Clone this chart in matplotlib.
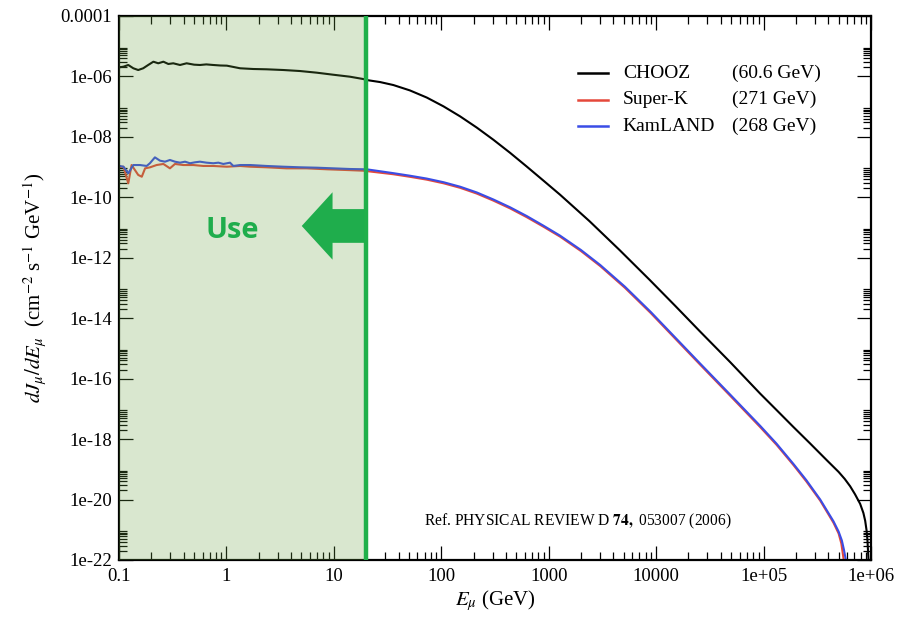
import numpy as np
import matplotlib.pyplot as plt
import matplotlib.patches as mpatches
from matplotlib.ticker import FixedLocator, FixedFormatter, NullFormatter

plt.rcParams['font.family'] = ['Liberation Serif', 'DejaVu Serif']
plt.rcParams['mathtext.fontset'] = 'stix'

# ==============================================================================
# Muon flux dJ/dE vs E
# ==============================================================================
E_chooz = np.array([
    0.10, 0.110, 0.122, 0.136, 0.151, 0.168, 0.187, 0.209, 0.232, 0.259,
    0.288, 0.320, 0.370, 0.426, 0.50, 0.567, 0.65, 0.755, 0.88, 1.01,
    1.34, 1.78, 2.37, 3.39, 4.83, 6.94, 9.84, 14.1, 18.8, 20.2,
    27, 35.8, 51, 73.3, 105, 150, 214, 305, 437, 625,
    891, 1276, 2400, 4570, 8700, 1.5e4, 2.57e4, 4.9e4, 9.3e4, 1.32e5,
    1.9e5, 2.7e5, 3.88e5, 5.0e5, 5.7e5, 6.4e5, 7.1e5, 7.93e5, 8.5e5, 8.83e5,
    9.1e5, 9.27e5, 9.5e5])
J_chooz = np.array([
    2.0e-6, 2.10e-6, 2.39e-6, 1.86e-6, 1.63e-6, 1.86e-6, 2.39e-6, 3.07e-6, 2.72e-6, 3.07e-6,
    2.58e-6, 2.72e-6, 2.39e-6, 2.72e-6, 2.45e-6, 2.39e-6, 2.50e-6, 2.39e-6, 2.30e-6, 2.27e-6,
    1.86e-6, 1.76e-6, 1.72e-6, 1.63e-6, 1.51e-6, 1.33e-6, 1.14e-6, 9.8e-7, 8.2e-7, 7.6e-7,
    6.5e-7, 5.19e-7, 3.45e-7, 2.0e-7, 1.02e-7, 4.75e-8, 2.03e-8, 8.07e-9, 2.97e-9, 1.04e-9,
    3.6e-10, 1.22e-10, 1.62e-11, 1.8e-12, 1.86e-13, 2.6e-14, 3.6e-15, 3.5e-16, 3.2e-17, 9.2e-18,
    2.5e-18, 7.3e-19, 2.0e-19, 8.2e-20, 4.8e-20, 2.75e-20, 1.5e-20, 7.2e-21, 3.6e-21, 2.0e-21,
    9.5e-22, 4.6e-22, 9.0e-23])

E_sk = np.array([
    0.10, 0.110, 0.122, 0.131, 0.151, 0.163, 0.175, 0.194, 0.224, 0.259,
    0.298, 0.332, 0.397, 0.492, 0.609, 0.755, 1.01, 1.34, 1.67, 2.36,
    3.63, 5.57, 8.65, 13.2, 18.8, 35.8, 51, 73.3, 105, 150,
    214, 305, 437, 625, 891, 1276, 2000, 3020, 5130, 8900,
    2.57e4, 4.9e4, 9.3e4, 1.32e5, 1.9e5, 2.5e5, 3.37e5, 4.48e5, 5.0e5, 5.3e5,
    5.6e5])
J_sk = np.array([
    1.0e-9, 1.03e-9, 2.9e-10, 1.17e-9, 5.5e-10, 4.8e-10, 9.1e-10, 9.8e-10, 1.17e-9, 1.27e-9,
    9.1e-10, 1.27e-9, 1.17e-9, 1.17e-9, 1.09e-9, 1.09e-9, 1.03e-9, 1.09e-9, 1.03e-9, 9.85e-10,
    9.1e-10, 9.1e-10, 8.45e-10, 8.0e-10, 7.6e-10, 5.8e-10, 4.78e-10, 3.84e-10, 2.91e-10, 2.06e-10,
    1.33e-10, 7.8e-11, 4.3e-11, 2.2e-11, 1.07e-11, 5.0e-12, 1.66e-12, 5.3e-13, 1.01e-13, 1.49e-14,
    2.9e-16, 2.7e-17, 2.5e-18, 6.5e-19, 1.38e-19, 4.0e-20, 9.2e-21, 1.7e-21, 7.5e-22, 3.5e-22,
    9.0e-23])

E_kam = np.array([
    0.10, 0.110, 0.122, 0.136, 0.157, 0.181, 0.194, 0.216, 0.241, 0.268,
    0.298, 0.332, 0.370, 0.412, 0.458, 0.510, 0.567, 0.654, 0.755, 0.842,
    0.936, 1.08, 1.16, 1.34, 1.67, 2.36, 3.39, 4.83, 6.94, 9.84,
    14.1, 20.2, 35.8, 51, 73.3, 105, 150, 214, 305, 437,
    625, 891, 1276, 2000, 3020, 5130, 8900, 2.57e4, 4.9e4, 9.3e4,
    1.32e5, 1.9e5, 2.5e5, 3.37e5, 4.48e5, 5.0e5, 5.36e5, 5.6e5, 5.87e5])
J_kam = np.array([
    1.1e-9, 1.03e-9, 6.24e-10, 1.17e-9, 1.17e-9, 1.09e-9, 1.34e-9, 2.1e-9, 1.63e-9, 1.51e-9,
    1.72e-9, 1.51e-9, 1.40e-9, 1.51e-9, 1.34e-9, 1.44e-9, 1.51e-9, 1.40e-9, 1.34e-9, 1.40e-9,
    1.27e-9, 1.40e-9, 1.09e-9, 1.17e-9, 1.17e-9, 1.09e-9, 1.03e-9, 9.85e-10, 9.55e-10, 9.1e-10,
    8.65e-10, 8.45e-10, 6.3e-10, 5.19e-10, 4.17e-10, 3.16e-10, 2.24e-10, 1.45e-10, 8.5e-11, 4.68e-11,
    2.4e-11, 1.16e-11, 5.4e-12, 1.8e-12, 5.75e-13, 1.1e-13, 1.62e-14, 3.16e-16, 2.95e-17, 2.75e-18,
    7.1e-19, 1.5e-19, 4.4e-20, 1.0e-20, 1.9e-21, 8.7e-22, 4.4e-22, 2.2e-22, 9.0e-23])

names = ['CHOOZ', 'Super-K', 'KamLAND']
energies = ['(60.6 GeV)', '(271 GeV)', '(268 GeV)']
colors = ['black', '#e5483b', '#3a4de6']

x_ticks = [0.1, 1, 10, 100, 1000, 1e4, 1e5, 1e6]
x_ticklabels = ['0.1', '1', '10', '100', '1000', '10000', '1e+05', '1e+06']
y_ticks = [1e-22, 1e-20, 1e-18, 1e-16, 1e-14, 1e-12, 1e-10, 1e-8, 1e-6, 1e-4]
y_ticklabels = ['1e-22', '1e-20', '1e-18', '1e-16', '1e-14', '1e-12',
                '1e-10', '1e-08', '1e-06', '0.0001']

E_cut = 20.0   # "Use" region upper edge (GeV)

# ==============================================================================
fig = plt.figure(figsize=(8.98, 6.17), dpi=100)
ax = fig.add_axes([0.1325, 0.0924, 0.8374, 0.8817])

ax.plot(E_chooz, J_chooz, color=colors[0], lw=1.5)
ax.plot(E_sk, J_sk, color=colors[1], lw=1.5)
ax.plot(E_kam, J_kam, color=colors[2], lw=1.5)

ax.set_xscale('log')
ax.set_yscale('log')
ax.set_xlim(0.1, 1e6)
ax.set_ylim(1e-22, 1e-4)

# ticks, xmgrace style
ax.xaxis.set_major_locator(FixedLocator(x_ticks))
ax.xaxis.set_major_formatter(FixedFormatter(x_ticklabels))
ax.xaxis.set_minor_locator(FixedLocator([k * 10.0**e for e in range(-1, 6) for k in range(2, 10)]))
ax.xaxis.set_minor_formatter(NullFormatter())
ax.yaxis.set_major_locator(FixedLocator(y_ticks))
ax.yaxis.set_major_formatter(FixedFormatter(y_ticklabels))
ax.yaxis.set_minor_locator(FixedLocator([k * 10.0**e for e in range(-22, -5, 2) for k in range(2, 10)]))
ax.yaxis.set_minor_formatter(NullFormatter())
ax.tick_params(which='both', direction='in', top=True, right=True, labelsize=13.5)
ax.tick_params(which='major', length=10, width=0.9)
ax.tick_params(which='minor', length=5.5, width=0.9)
ax.tick_params(axis='x', pad=6)
ax.tick_params(axis='y', pad=5)
for sp in ax.spines.values():
    sp.set_linewidth(1.6)

ax.set_xlabel(r'$E_{\mu}$ (GeV)', fontsize=15, labelpad=2)
ax.set_ylabel(r'$dJ_{\mu}/dE_{\mu}$  (cm$^{-2}$ s$^{-1}$ GeV$^{-1}$)', fontsize=15, labelpad=8)

# shaded "use" region (overlay on top of the curves) + cut line
ax.axvspan(0.1, E_cut, color='#68a040', alpha=0.25, lw=0, zorder=3)
ax.axvline(E_cut, color='#20b04b', lw=3.2, zorder=4)

# arrow pointing left from the cut line
arrow = mpatches.Polygon([[0.326, 0.645], [0.284, 0.645], [0.284, 0.676], [0.243, 0.614],
                          [0.284, 0.552], [0.284, 0.583], [0.326, 0.583]],
                         closed=True, transform=ax.transAxes, color='#1fad4c', lw=0, zorder=5)
ax.add_patch(arrow)
ax.text(0.150, 0.605, 'Use', transform=ax.transAxes, color='#1fad4c', fontsize=21,
        fontweight='bold', family=['Open Sans', 'DejaVu Sans'], ha='center', va='center', zorder=5)

# legend, drawn by hand to keep the two columns
for i, (nm, en, c) in enumerate(zip(names, energies, colors)):
    yy = 0.895 - i * 0.049
    ax.plot([0.610, 0.650], [yy, yy], color=c, lw=1.8, transform=ax.transAxes)
    ax.text(0.670, yy, nm, transform=ax.transAxes, fontsize=14, va='center')
    ax.text(0.815, yy, en, transform=ax.transAxes, fontsize=14, va='center')

ax.text(0.405, 0.071, r'Ref. PHYSICAL REVIEW D $\mathbf{74,}$ 053007 (2006)',
        transform=ax.transAxes, fontsize=11.2, va='center')

plt.savefig('out.png', dpi=100)
